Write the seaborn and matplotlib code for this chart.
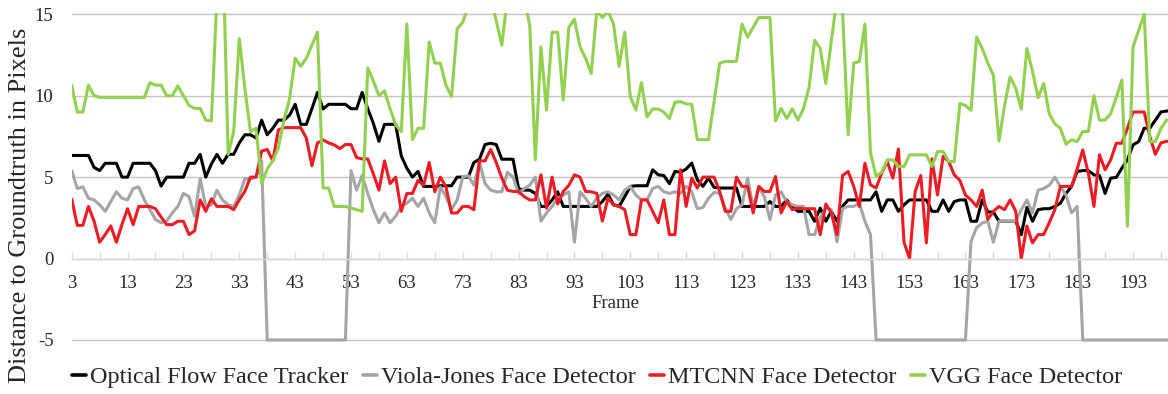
import numpy as np
import pandas as pd
import matplotlib
matplotlib.use("Agg")
import matplotlib.pyplot as plt
from matplotlib.lines import Line2D
import seaborn as sns

# ---------------- data ----------------
frames = list(range(3, 201))

optical_flow = [
    6.33, 6.33, 6.33, 6.33, 5.6, 5.4, 5.85, 5.85, 5.85, 5.0,
    5.0, 5.85, 5.85, 5.85, 5.85, 5.4, 4.45, 5.0, 5.0, 5.0,
    5.0, 5.85, 5.85, 6.4, 5.0, 5.8, 6.4, 5.85, 6.4, 6.4,
    7.1, 7.6, 7.6, 7.4, 8.5, 7.6, 8.0, 8.5, 8.5, 8.8,
    9.47, 8.24, 8.24, 9.2, 10.2, 9.18, 9.47, 9.47, 9.47, 9.47,
    9.2, 9.2, 10.2, 9.2, 8.3, 7.2, 8.24, 8.24, 8.24, 6.3,
    5.55, 5.0, 5.35, 4.43, 4.43, 4.43, 4.47, 4.47, 4.47, 5.0,
    5.0, 5.0, 5.9, 6.1, 7.0, 7.08, 7.0, 6.1, 6.1, 6.1,
    4.3, 4.2, 4.2, 4.0, 3.2, 3.2, 3.6, 4.1, 3.2, 3.2,
    3.2, 3.2, 3.2, 3.2, 3.2, 3.5, 3.96, 3.3, 3.2, 3.8,
    4.43, 4.47, 4.47, 4.47, 5.45, 5.14, 5.1, 4.6, 5.35, 5.3,
    5.5, 5.86, 4.84, 4.43, 4.94, 4.37, 4.33, 4.33, 4.33, 4.33,
    3.2, 3.2, 3.2, 3.2, 3.2, 3.5, 3.2, 3.2, 3.6, 3.2,
    2.9, 2.9, 2.9, 2.29, 3.1, 2.29, 2.9, 2.29, 3.2, 3.6,
    3.6, 3.6, 3.6, 3.6, 4.1, 2.9, 3.6, 3.6, 2.9, 3.3,
    3.6, 3.6, 3.6, 3.6, 2.9, 2.9, 3.6, 2.9, 3.5, 3.6,
    3.6, 2.29, 2.29, 3.6, 2.86, 2.86, 2.29, 2.29, 2.29, 2.29,
    1.47, 3.14, 2.29, 3.0, 3.06, 3.06, 3.2, 3.4, 4.0, 4.43,
    5.35, 5.4, 5.4, 5.14, 5.1, 4.0, 4.94, 4.98, 5.55, 6.06,
    6.98, 7.18, 8.0, 8.0, 8.5, 9.0, 9.06, 9.06,
]

viola_jones = [
    5.4, 4.3, 4.4, 3.7, 3.6, 3.3, 2.9, 3.5, 4.1, 3.7,
    3.6, 4.3, 4.4, 3.6, 3.0, 2.4, 2.2, 2.3, 2.8, 3.2,
    4.0, 3.8, 2.6, 4.9, 3.2, 3.3, 4.2, 3.6, 3.3, 3.2,
    3.9, 4.9, 4.9, 5.0, 6.0, -5, -5, -5, -5, -5,
    -5, -5, -5, -5, -5, -5, -5, -5, -5, -5,
    5.4, 4.2, 5.1, 4.0, 3.0, 2.2, 2.8, 2.2, 2.6, 3.2,
    3.4, 3.7, 3.2, 3.7, 2.8, 2.2, 4.4, 3.8, 3.0, 3.6,
    5.0, 5.1, 4.5, 5.9, 4.6, 4.2, 4.1, 4.1, 5.3, 5.0,
    4.0, 4.3, 4.5, 5.0, 2.3, 2.8, 3.2, 3.7, 3.9, 4.1,
    1.0, 4.1, 3.7, 3.2, 3.7, 4.0, 4.1, 3.9, 3.6, 4.2,
    4.43, 3.9, 3.6, 3.6, 4.3, 4.43, 4.1, 4.0, 4.1, 4.0,
    4.43, 4.1, 3.06, 3.14, 3.7, 4.06, 4.0, 3.1, 2.4, 3.06,
    3.3, 4.94, 3.14, 4.37, 3.8, 2.4, 3.9, 4.1, 3.5, 3.3,
    3.2, 3.2, 1.47, 1.47, 2.5, 3.1, 3.0, 1.02, 3.06, 3.2,
    3.2, 3.4, 2.29, 1.47, -5, -5, -5, -5, -5, -5,
    -5, -5, -5, -5, -5, -5, -5, -5, -5, -5,
    -5, 1.06, 1.9, 2.18, 2.29, 1.0, 2.29, 2.29, 2.29, 2.29,
    3.0, 3.6, 2.8, 4.2, 4.3, 4.5, 5.0, 4.4, 3.9, 2.8,
    3.2, -5, -5, -5, -5, -5, -5, -5, -5, -5,
    -5, -5, -5, -5, -5, -5, -5, -5,
]

mtcnn = [
    3.65, 2.04, 2.04, 3.2, 2.3, 1.0, 1.47, 2.0, 1.0, 2.1,
    3.06, 2.08, 3.2, 3.2, 3.2, 3.06, 2.55, 2.08, 2.08, 2.29,
    2.29, 1.47, 1.7, 3.6, 2.9, 3.67, 3.2, 3.2, 3.2, 3.0,
    3.6, 4.12, 5.0, 5.0, 6.6, 6.7, 6.0, 7.9, 8.04, 8.04,
    8.04, 8.04, 7.4, 5.7, 7.1, 7.28, 7.1, 6.98, 6.75, 7.0,
    7.0, 6.2, 6.12, 6.12, 5.2, 4.2, 6.0, 4.6, 5.0, 2.9,
    4.0, 4.0, 4.8, 4.5, 5.9, 4.1, 5.0, 4.4, 2.8, 2.8,
    3.2, 3.2, 3.0, 6.0, 6.0, 6.7, 5.9, 4.94, 4.2, 4.12,
    4.12, 3.8, 3.6, 3.6, 5.14, 3.1, 5.0, 3.35, 4.12, 4.5,
    5.14, 5.0, 4.12, 4.1, 4.0, 2.3, 3.7, 3.3, 3.2, 3.0,
    1.47, 1.47, 3.6, 3.6, 2.9, 2.2, 3.6, 1.47, 1.47, 5.45,
    3.2, 4.94, 4.33, 5.0, 5.0, 5.0, 4.12, 2.9, 2.9, 5.0,
    4.43, 4.43, 2.8, 4.43, 4.12, 4.12, 5.04, 2.8, 3.5, 3.0,
    3.1, 3.06, 3.06, 3.06, 1.47, 3.35, 2.8, 1.47, 5.1, 5.35,
    4.43, 3.2, 5.86, 4.53, 4.33, 5.24, 5.96, 4.94, 6.73, 1.0,
    0.0, 4.12, 5.1, 0.96, 6.12, 3.9, 6.27, 5.96, 5.14, 4.8,
    3.9, 3.6, 3.2, 4.2, 2.4, 2.9, 3.2, 3.0, 3.6, 2.9,
    0.0, 2.0, 0.96, 1.47, 1.47, 2.2, 3.0, 4.43, 4.43, 4.43,
    5.5, 6.67, 5.24, 3.2, 6.37, 5.45, 6.06, 7.08, 7.08, 8.0,
    9.0, 9.0, 9.0, 7.5, 6.4, 7.1, 7.2, 7.2,
]

vgg = [
    10.65, 9.0, 9.0, 10.65, 10.0, 9.9, 9.9, 9.9, 9.9, 9.9,
    9.9, 9.9, 9.9, 9.9, 10.8, 10.65, 10.65, 10.0, 10.0, 10.6,
    10.0, 9.4, 9.22, 9.22, 8.5, 8.45, 16.0, 20.0, 6.4, 7.8,
    13.5, 10.45, 7.8, 8.0, 4.6, 5.5, 6.0, 6.8, 8.5, 9.8,
    12.3, 11.8, 12.3, 13.1, 13.9, 4.33, 4.33, 3.2, 3.2, 3.2,
    3.1, 3.0, 2.9, 11.7, 10.9, 10.0, 10.3, 9.2, 8.2, 7.8,
    14.4, 7.3, 8.0, 8.0, 13.3, 12.0, 12.0, 10.65, 9.94, 14.1,
    14.5, 15.5, 16.0, 17.0, 16.5, 16.0, 14.6, 13.1, 16.0, 17.0,
    16.0, 16.0, 14.3, 6.06, 13.0, 9.12, 13.9, 13.9, 9.73, 14.2,
    14.7, 13.0, 12.3, 11.37, 15.2, 14.8, 15.2, 14.4, 11.8, 13.9,
    9.94, 9.12, 10.8, 8.7, 9.18, 9.18, 9.0, 8.6, 9.6, 9.63,
    9.5, 9.47, 7.3, 7.3, 7.3, 9.63, 12.0, 12.1, 12.1, 12.1,
    14.4, 13.6, 14.2, 14.8, 14.8, 14.8, 8.45, 9.22, 8.6, 9.2,
    8.5, 9.2, 10.5, 13.4, 12.9, 10.75, 13.4, 16.0, 15.2, 7.6,
    12.0, 12.1, 14.4, 6.5, 5.04, 5.3, 6.06, 6.06, 5.65, 5.65,
    6.37, 6.37, 6.37, 6.37, 5.65, 6.57, 6.57, 5.96, 5.96, 9.53,
    9.4, 9.1, 13.6, 12.9, 12.0, 11.26, 7.22, 9.4, 11.16, 10.45,
    9.18, 12.9, 11.5, 9.88, 10.75, 8.9, 8.27, 8.0, 7.02, 7.29,
    7.18, 7.8, 7.8, 10.0, 8.5, 8.5, 8.9, 9.9, 10.96, 1.98,
    13.0, 14.0, 15.0, 7.18, 7.18, 8.0, 8.5, 8.5,
]

series_names = ["Optical Flow Face Tracker", "Viola-Jones Face Detector",
                "MTCNN Face Detector", "VGG Face Detector"]
series_colors = ["#000000", "#a5a5a5", "#ed1c24", "#92d050"]
x_tick_labels = list(range(3, 194, 10))
x_minor_ticks = list(range(8, 200, 10))
y_ticks = [-5, 0, 5, 10, 15]

# ---------------- style ----------------
sns.set_style("white")
plt.rcParams["font.family"] = ["Liberation Serif", "DejaVu Serif"]

df = pd.DataFrame({
    "Frame": frames * 4,
    "Distance": optical_flow + viola_jones + mtcnn + vgg,
    "Series": sum([[n] * len(frames) for n in series_names], []),
})

W, H = 1168, 394
fig = plt.figure(figsize=(W / 100, H / 100), dpi=100)
x0_px, top_px, bot_px = 71.7, 13.3, 341.6
ax = fig.add_axes([x0_px / W, 1 - bot_px / H, (W - x0_px) / W, (bot_px - top_px) / H])

sns.lineplot(data=df, x="Frame", y="Distance", hue="Series", hue_order=series_names,
             palette=series_colors, linewidth=2.2, estimator=None, sort=False,
             legend=False, ax=ax)

ax.set_xlim(3, 199.26)
ax.set_ylim(-5.1, 15.06)

# axes styling (Excel-like)
for s in ["top", "right", "left"]:
    ax.spines[s].set_visible(False)
ax.spines["bottom"].set_position(("data", 0))
ax.spines["bottom"].set_color("#d9d9d9")
ax.spines["bottom"].set_linewidth(1.0)
ax.set_axisbelow(True)

ax.set_yticks(y_ticks)
ax.set_yticklabels([str(v) for v in y_ticks])
ax.yaxis.grid(True, color="#c4c4c4", linewidth=1.0)
ax.xaxis.grid(False)

ax.set_xticks(x_tick_labels)
ax.set_xticklabels([str(v) for v in x_tick_labels])
ax.set_xticks(x_minor_ticks, minor=True)
ax.tick_params(axis="x", which="both", direction="in", length=5, width=1,
               color="#d9d9d9", pad=12, labelsize=13.5, bottom=True)
ax.tick_params(axis="x", which="minor", labelbottom=False)
ax.tick_params(axis="y", length=0, pad=13, labelsize=13.5)

ax.set_xlabel("")
ax.set_ylabel("")
fig.text(615 / W, 1 - 303 / H, "Frame", ha="center", va="center", fontsize=13.5)
fig.text(20 / W, 1 - 205 / H, "Distance to Groundtruth in Pixels", rotation=90,
         ha="center", va="center", fontsize=19)

handles = [Line2D([0], [0], color=c, lw=2.6) for c in series_colors]
fig.legend(handles, series_names, loc="center", bbox_to_anchor=(597 / W, 1 - 377 / H),
           ncol=4, frameon=False, fontsize=17.4, handlelength=0.6,
           handletextpad=0.15, columnspacing=0.6, borderaxespad=0, borderpad=0)

fig.savefig("out.png", dpi=100)
